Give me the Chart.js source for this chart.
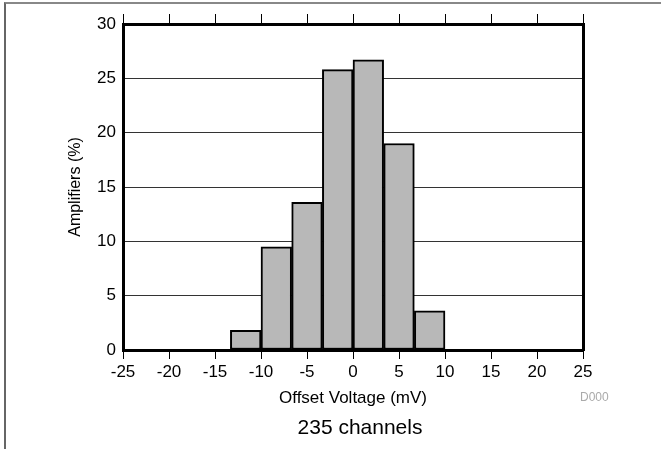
<!DOCTYPE html>
<html>
<head>
<meta charset="utf-8">
<script src="https://cdn.jsdelivr.net/npm/chart.js@4/dist/chart.umd.min.js"></script>
<style>
  body { margin: 0; background: #fff; font-family: "Liberation Sans", Arial, sans-serif; }
  #wrap { position: relative; width: 661px; height: 449px; }
  #frame { position: absolute; left: 4px; top: 2px; right: 0; bottom: 0;
           border-top: 2px solid #888; border-left: 2px solid #666; }
  #note { position: absolute; left: 360px; top: 414px; transform: translateX(-50%);
          font-size: 21px; line-height: 25px; color: #000; white-space: nowrap; }
  #code { position: absolute; left: 580px; top: 390px; font-size: 12px; line-height: 14px; color: #aaa; }
</style>
</head>
<body>
<div id="wrap">
  <canvas id="myChart" width="661" height="449"></canvas>
  <div id="frame"></div>
  <div id="note">235 channels</div>
  <div id="code">D000</div>
</div>
<script>
// bins (mV) and percent of amplifiers
const binLeft  = [-13.33, -10, -6.67, -3.33, 0, 3.33, 6.67];
const binRight = [-10, -6.67, -3.33, 0, 3.33, 6.67, 10];
const percent  = [1.8, 9.5, 13.6, 25.8, 26.7, 19.0, 3.6];
const xTicks = [-25, -20, -15, -10, -5, 0, 5, 10, 15, 20, 25];
const yTicks = [0, 5, 10, 15, 20, 25, 30];

const font = 'Liberation Sans, Arial, sans-serif';

let points = percent.map((v, i) => ({ x: (binLeft[i] + binRight[i]) / 2, y: v }));

const ctx = document.getElementById('myChart');
const chart = new Chart(ctx, {
  type: 'bar',
  data: {
    datasets: [{
      data: points,
      backgroundColor: '#b8b8b8',
      borderColor: '#000',
      borderWidth: 2,
      borderSkipped: false,
      barPercentage: 1,
      categoryPercentage: 1
    }]
  },
  options: {
    responsive: false,
    animation: false,
    layout: { padding: { left: 60, top: 14, right: 78, bottom: 40 } },
    plugins: { legend: { display: false }, tooltip: { enabled: false } },
    scales: {
      x: {
        type: 'linear', position: 'bottom', min: -25, max: 25, offset: false,
        afterBuildTicks: (s) => { s.ticks = xTicks.map(v => ({ value: v })); },
        afterFit: (s) => { s.height = 59; },
        ticks: { color: '#000', padding: 3, font: { family: font, size: 17 } },
        grid: { offset: false, drawOnChartArea: false, drawTicks: true, tickLength: 9, color: '#000', lineWidth: 1 },
        border: { display: true, color: '#000', width: 3 },
        title: { display: true, text: 'Offset Voltage (mV)', color: '#000', padding: 0, font: { family: font, size: 17 } }
      },
      x2: {
        type: 'linear', position: 'top', min: -25, max: 25, offset: false,
        afterBuildTicks: (s) => { s.ticks = xTicks.map(v => ({ value: v })); },
        afterFit: (s) => { s.height = 10; },
        ticks: { display: false },
        grid: { offset: false, drawOnChartArea: false, drawTicks: true, tickLength: 10, color: '#000', lineWidth: 1 },
        border: { display: true, color: '#000', width: 3 }
      },
      y: {
        position: 'left', min: 0, max: 30,
        afterBuildTicks: (s) => { s.ticks = yTicks.map(v => ({ value: v })); },
        afterFit: (s) => { s.width = 63; },
        ticks: { color: '#000', padding: 7, font: { family: font, size: 17 } },
        grid: { drawTicks: false, color: '#333', lineWidth: 1 },
        border: { display: true, color: '#000', width: 3 },
        title: { display: true, text: 'Amplifiers (%)', color: '#000', padding: { top: 6 }, font: { family: font, size: 16 } }
      },
      y2: {
        position: 'right', min: 0, max: 30,
        afterFit: (s) => { s.width = 0; },
        ticks: { display: false },
        grid: { display: false },
        border: { display: true, color: '#000', width: 3 }
      }
    }
  }
});
</script>
</body>
</html>
